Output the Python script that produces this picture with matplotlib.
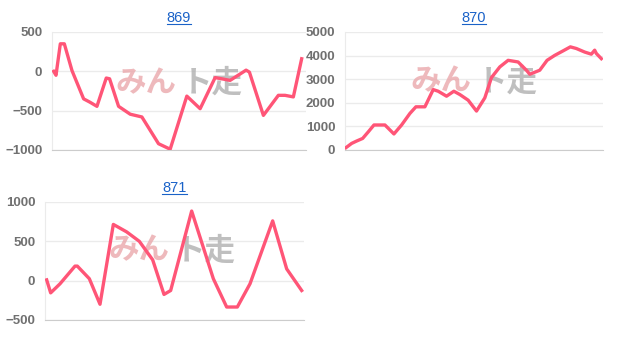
import matplotlib.pyplot as plt

plt.rcParams['font.family'] = ['Liberation Sans', 'Noto Sans CJK JP', 'DejaVu Sans']

# chart 869
t869 = [5, 12, 25, 37, 60, 95, 113, 135, 163, 173, 200, 235, 270, 320, 355, 405, 445,
        490, 510, 535, 583, 593, 635, 680, 700, 725, 750]
v869 = [0, -50, 350, 350, 10, -350, -390, -445, -85, -95, -445, -545, -580, -920, -990,
        -315, -475, -80, -95, -115, 15, -10, -560, -305, -305, -325, 160]

# chart 870
t870 = [3, 20, 35, 53, 70, 87, 120, 147, 170, 195, 213, 240, 265, 280, 305, 327, 345,
        370, 395, 420, 440, 465, 490, 520, 545, 555, 585, 607, 630, 655, 677, 695, 720,
        740, 750, 755, 770]
v870 = [100, 280, 380, 490, 770, 1060, 1060, 680, 1060, 1550, 1830, 1830, 2560, 2490,
        2280, 2490, 2350, 2110, 1650, 2210, 3070, 3520, 3800, 3730, 3380, 3210, 3380,
        3800, 4010, 4200, 4370, 4300, 4150, 4060, 4230, 4090, 3870]

# chart 871
t871 = [5, 17, 45, 90, 97, 133, 165, 205, 245, 283, 323, 357, 377, 440, 505, 545, 577,
        615, 683, 725, 770]
v871 = [10, -155, -40, 185, 185, 25, -300, 715, 620, 500, 265, -175, -125, 885, 25,
        -335, -335, -40, 760, 150, -125]

charts = [
    ('869', t869, v869, (-1000, 500), [-1000, -500, 0, 500], 763, [52, 306, 32, 150], 0.5, 0.57),
    ('870', t870, v870, (0, 5000), [0, 1000, 2000, 3000, 4000, 5000], 775, [345, 603, 32, 150], 0.5, 0.58),
    ('871', t871, v871, (-500, 1000), [-500, 0, 500, 1000], 777, [45, 304, 202, 320], 0.49, 0.59),
]

W, H = 623, 345
fig = plt.figure(figsize=(W / 100, H / 100), dpi=100)

titles = []
for title, t, v, ylim, yticks, xmax, (l, r, top, bot), wx, wy in charts:
    ax = fig.add_axes([l / W, 1 - bot / H, (r - l) / W, (bot - top) / H])
    ax.plot(t, v, color='#ff5577', lw=2.4, solid_joinstyle='round', zorder=3)
    ax.set_xlim(0, xmax)
    ax.set_ylim(*ylim)
    ax.set_yticks(yticks)
    ax.set_xticks([])
    ax.grid(axis='y', color='#ebebeb', lw=1, zorder=0)
    for s in ['top', 'right']:
        ax.spines[s].set_visible(False)
    ax.spines['left'].set_color('#ebebeb')
    ax.spines['bottom'].set_color('#cccccc')
    ax.tick_params(axis='y', length=0, pad=7, labelsize=9.5, labelcolor='#707070')
    for lab in ax.get_yticklabels():
        lab.set_fontweight('bold')
    titles.append(ax.set_title(title, fontsize=10.5, color='#1a62c8', pad=7))
    # watermark
    ax.text(wx - 0.01, wy, 'みん', transform=ax.transAxes, ha='right', va='center',
            fontsize=22, fontweight='bold', color='#eaa8ac',
            alpha=0.8, family=['Noto Sans CJK JP'], zorder=2)
    ax.text(wx + 0.01, wy, 'ト走', transform=ax.transAxes, ha='left', va='center',
            fontsize=22, fontweight='bold', color='#b0b0b0',
            alpha=0.8, family=['Noto Sans CJK JP'], zorder=2)

# underline the link-style titles
fig.canvas.draw()
for tt in titles:
    bb = tt.get_window_extent()
    y = bb.y0 + 1
    fig.add_artist(plt.Line2D([bb.x0 / W, bb.x1 / W], [y / H, y / H],
                              color='#1a62c8', lw=0.8))

fig.savefig('out.png', dpi=100)
